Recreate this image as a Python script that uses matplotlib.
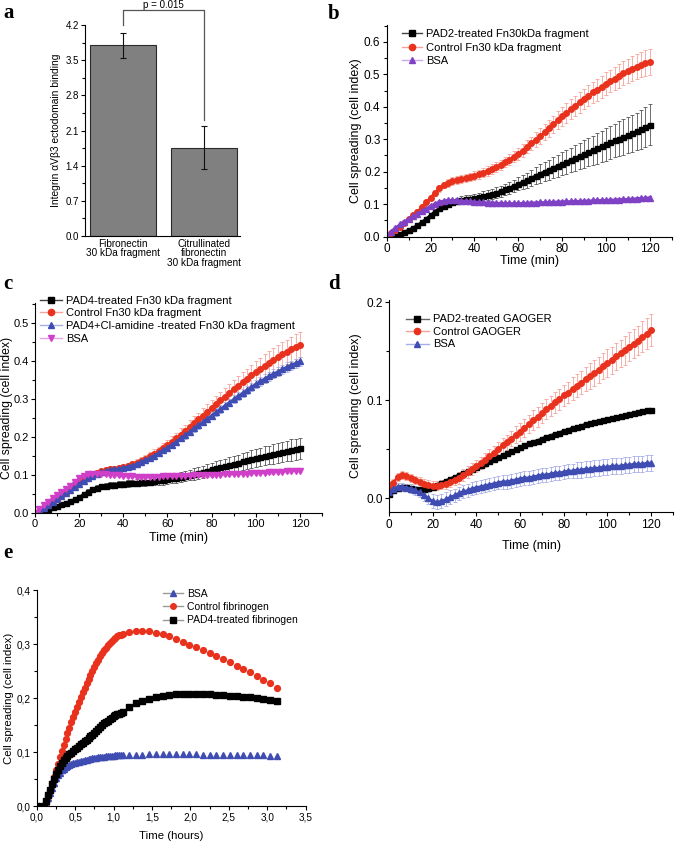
import numpy as np
import matplotlib
matplotlib.use("Agg")
import matplotlib.pyplot as plt
from matplotlib.lines import Line2D
from matplotlib.ticker import MultipleLocator, FormatStrFormatter, FuncFormatter

plt.rcParams['font.family'] = ['Liberation Sans', 'DejaVu Sans']
plt.rcParams['axes.linewidth'] = 0.8

# ---------------- Panel a data ----------------
a_categories = ["Fibronectin\n30 kDa fragment", "Citrullinated\nfibronectin\n30 kDa fragment"]
a_values = [3.80, 1.76]
a_errors = [0.25, 0.43]
a_pvalue = "p = 0.015"

# ---------------- Panel b data (time in min, every 2 min) ----------------
b_time = np.arange(0, 121, 2)
b_pad2 = [0.0, 0.0, 0.002, 0.008, 0.014, 0.02, 0.027, 0.035, 0.044, 0.055, 0.066, 0.077, 0.087, 0.095, 0.101,
          0.106, 0.11, 0.113, 0.115, 0.117, 0.119, 0.121, 0.124, 0.127, 0.131, 0.135, 0.14, 0.145, 0.15, 0.156,
          0.162, 0.168, 0.174, 0.181, 0.187, 0.194, 0.2, 0.206, 0.212, 0.218, 0.224, 0.23, 0.236, 0.242, 0.248,
          0.254, 0.26, 0.266, 0.272, 0.278, 0.284, 0.29, 0.296, 0.302, 0.307, 0.312, 0.318, 0.324, 0.33, 0.337, 0.345]
b_pad2_err = [0.002, 0.002, 0.003, 0.003, 0.004, 0.004, 0.005, 0.005, 0.006, 0.006, 0.007, 0.007, 0.008, 0.008, 0.009,
              0.01, 0.01, 0.011, 0.012, 0.012, 0.013, 0.014, 0.015, 0.015, 0.016, 0.017, 0.017, 0.018, 0.019, 0.019,
              0.02, 0.022, 0.023, 0.025, 0.026, 0.028, 0.029, 0.031, 0.032, 0.034, 0.035, 0.036, 0.038, 0.039, 0.041,
              0.042, 0.044, 0.045, 0.047, 0.048, 0.05, 0.051, 0.052, 0.053, 0.055, 0.056, 0.057, 0.058, 0.06, 0.061, 0.062]
b_control = [0.0, 0.01, 0.02, 0.03, 0.042, 0.053, 0.065, 0.077, 0.09, 0.105, 0.12, 0.135, 0.148, 0.158, 0.165,
             0.17, 0.174, 0.177, 0.18, 0.184, 0.188, 0.192, 0.197, 0.202, 0.208, 0.214, 0.221, 0.229, 0.237, 0.246,
             0.255, 0.265, 0.276, 0.287, 0.299, 0.31, 0.322, 0.334, 0.346, 0.358, 0.37, 0.381, 0.392, 0.403, 0.414,
             0.424, 0.434, 0.444, 0.453, 0.462, 0.471, 0.479, 0.487, 0.495, 0.503, 0.51, 0.517, 0.524, 0.53, 0.535, 0.539]
b_control_err = [0.004, 0.004, 0.005, 0.005, 0.006, 0.006, 0.007, 0.007, 0.008, 0.008, 0.009, 0.009, 0.01, 0.01, 0.011,
                 0.012, 0.012, 0.012, 0.013, 0.013, 0.013, 0.014, 0.014, 0.015, 0.015, 0.015, 0.016, 0.016, 0.017, 0.017,
                 0.018, 0.019, 0.02, 0.021, 0.022, 0.024, 0.025, 0.026, 0.027, 0.028, 0.03, 0.03, 0.031, 0.031, 0.032,
                 0.032, 0.033, 0.033, 0.034, 0.034, 0.035, 0.035, 0.036, 0.036, 0.037, 0.037, 0.038, 0.038, 0.039, 0.039, 0.04]
b_bsa = [0.0, 0.015, 0.027, 0.037, 0.046, 0.054, 0.062, 0.07, 0.078, 0.086, 0.094, 0.101, 0.107, 0.11, 0.112,
         0.112, 0.111, 0.11, 0.109, 0.108, 0.107, 0.106, 0.105, 0.104, 0.104, 0.103, 0.103, 0.103, 0.102, 0.102,
         0.102, 0.103, 0.103, 0.104, 0.104, 0.105, 0.105, 0.106, 0.106, 0.107, 0.107, 0.108, 0.108, 0.109, 0.109,
         0.11, 0.11, 0.111, 0.111, 0.112, 0.112, 0.113, 0.113, 0.114, 0.115, 0.115, 0.116, 0.117, 0.118, 0.119, 0.12]
b_bsa_err = [0.004] * 61
b_labels = ["PAD2-treated Fn30kDa fragment", "Control Fn30 kDa fragment", "BSA"]

# ---------------- Panel c data ----------------
c_time = np.arange(0, 121, 2)
c_pad4 = [0.0, 0.0, 0.004, 0.01, 0.015, 0.019, 0.023, 0.027, 0.031, 0.036, 0.042, 0.049, 0.056, 0.062, 0.067,
          0.07, 0.072, 0.074, 0.075, 0.076, 0.077, 0.078, 0.079, 0.08, 0.081, 0.082, 0.083, 0.084, 0.086, 0.087,
          0.089, 0.091, 0.093, 0.095, 0.098, 0.1, 0.103, 0.106, 0.109, 0.112, 0.115, 0.118, 0.121, 0.124, 0.127,
          0.13, 0.133, 0.136, 0.139, 0.142, 0.145, 0.148, 0.151, 0.153, 0.156, 0.158, 0.161, 0.163, 0.166, 0.168, 0.171]
c_pad4_err = [0.002, 0.002, 0.003, 0.003, 0.003, 0.004, 0.004, 0.004, 0.005, 0.005, 0.005, 0.006, 0.006, 0.006, 0.007,
              0.007, 0.007, 0.008, 0.008, 0.008, 0.008, 0.009, 0.009, 0.009, 0.01, 0.01, 0.01, 0.011, 0.011, 0.012,
              0.012, 0.012, 0.013, 0.013, 0.014, 0.014, 0.015, 0.016, 0.016, 0.017, 0.018, 0.018, 0.019, 0.019, 0.02,
              0.021, 0.021, 0.022, 0.022, 0.023, 0.024, 0.024, 0.025, 0.025, 0.026, 0.026, 0.027, 0.027, 0.028, 0.028, 0.028]
c_control = [0.0, 0.005, 0.012, 0.02, 0.028, 0.036, 0.044, 0.053, 0.062, 0.071, 0.08, 0.088, 0.095, 0.101, 0.106,
             0.11, 0.113, 0.115, 0.117, 0.119, 0.121, 0.124, 0.128, 0.132, 0.137, 0.143, 0.149, 0.156, 0.163, 0.171,
             0.179, 0.188, 0.197, 0.207, 0.217, 0.227, 0.237, 0.247, 0.257, 0.267, 0.277, 0.287, 0.297, 0.307, 0.317,
             0.327, 0.336, 0.345, 0.354, 0.363, 0.372, 0.38, 0.388, 0.396, 0.404, 0.411, 0.418, 0.425, 0.432, 0.438, 0.444]
c_control_err = [0.003, 0.003, 0.004, 0.004, 0.004, 0.005, 0.005, 0.005, 0.006, 0.006, 0.006, 0.006, 0.007, 0.007, 0.007,
                 0.007, 0.008, 0.008, 0.008, 0.008, 0.009, 0.009, 0.009, 0.01, 0.01, 0.01, 0.011, 0.012, 0.012, 0.013,
                 0.013, 0.014, 0.015, 0.016, 0.016, 0.017, 0.018, 0.018, 0.019, 0.02, 0.02, 0.021, 0.022, 0.023, 0.024,
                 0.025, 0.026, 0.027, 0.027, 0.028, 0.029, 0.029, 0.03, 0.03, 0.031, 0.031, 0.032, 0.032, 0.033, 0.033, 0.033]
c_clamidine = [0.0, 0.006, 0.013, 0.021, 0.029, 0.037, 0.045, 0.053, 0.061, 0.069, 0.077, 0.085, 0.092, 0.098, 0.103,
               0.107, 0.11, 0.113, 0.115, 0.117, 0.119, 0.122, 0.125, 0.129, 0.134, 0.139, 0.145, 0.151, 0.158, 0.165,
               0.172, 0.18, 0.188, 0.197, 0.205, 0.214, 0.223, 0.231, 0.24, 0.249, 0.257, 0.266, 0.274, 0.283, 0.291,
               0.3, 0.308, 0.316, 0.324, 0.332, 0.34, 0.347, 0.354, 0.361, 0.367, 0.373, 0.379, 0.385, 0.39, 0.395, 0.4]
c_clamidine_err = [0.003, 0.003, 0.003, 0.004, 0.004, 0.004, 0.004, 0.005, 0.005, 0.005, 0.005, 0.005, 0.005, 0.006, 0.006,
                   0.006, 0.006, 0.006, 0.006, 0.006, 0.006, 0.007, 0.007, 0.007, 0.007, 0.007, 0.007, 0.007, 0.008, 0.008,
                   0.008, 0.008, 0.008, 0.008, 0.009, 0.009, 0.009, 0.009, 0.009, 0.009, 0.01, 0.01, 0.01, 0.01, 0.01,
                   0.01, 0.011, 0.011, 0.011, 0.011, 0.011, 0.011, 0.012, 0.012, 0.012, 0.012, 0.012, 0.012, 0.012, 0.012, 0.012]
c_bsa = [0.0, 0.01, 0.02, 0.03, 0.039, 0.047, 0.055, 0.063, 0.072, 0.082, 0.091, 0.098, 0.102, 0.104, 0.104,
         0.103, 0.102, 0.101, 0.1, 0.099, 0.098, 0.097, 0.097, 0.096, 0.096, 0.096, 0.096, 0.096, 0.096, 0.097,
         0.097, 0.097, 0.097, 0.098, 0.098, 0.098, 0.099, 0.099, 0.099, 0.1, 0.1, 0.101, 0.101, 0.102, 0.102,
         0.103, 0.103, 0.104, 0.104, 0.105, 0.105, 0.106, 0.106, 0.107, 0.107, 0.108, 0.109, 0.11, 0.11, 0.111, 0.112]
c_bsa_err = [0.004] * 61
c_labels = ["PAD4-treated Fn30 kDa fragment", "Control Fn30 kDa fragment",
            "PAD4+Cl-amidine -treated Fn30 kDa fragment", "BSA"]

# ---------------- Panel d data ----------------
d_time = np.arange(0, 121, 2)
d_pad2 = [0.004, 0.008, 0.011, 0.012, 0.012, 0.011, 0.01, 0.01, 0.01, 0.011, 0.012, 0.014, 0.016, 0.018, 0.02,
          0.022, 0.024, 0.026, 0.028, 0.03, 0.032, 0.034, 0.036, 0.038, 0.04, 0.042, 0.044, 0.046, 0.048, 0.05,
          0.052, 0.054, 0.056, 0.058, 0.059, 0.061, 0.063, 0.064, 0.066, 0.067, 0.069, 0.07, 0.072, 0.073, 0.074,
          0.076, 0.077, 0.078, 0.079, 0.08, 0.081, 0.082, 0.083, 0.084, 0.085, 0.086, 0.087, 0.088, 0.089, 0.09, 0.09]
d_pad2_err = [0.002] * 61
d_control = [0.008, 0.016, 0.022, 0.024, 0.023, 0.021, 0.019, 0.017, 0.015, 0.014, 0.013, 0.013, 0.014, 0.015, 0.017,
             0.019, 0.021, 0.024, 0.027, 0.03, 0.033, 0.036, 0.039, 0.043, 0.046, 0.05, 0.054, 0.057, 0.061, 0.065,
             0.068, 0.072, 0.076, 0.08, 0.083, 0.087, 0.091, 0.094, 0.098, 0.101, 0.105, 0.108, 0.112, 0.115, 0.118,
             0.122, 0.125, 0.128, 0.131, 0.135, 0.138, 0.141, 0.145, 0.148, 0.151, 0.155, 0.158, 0.161, 0.165, 0.168, 0.172]
d_control_err = [0.004, 0.004, 0.004, 0.004, 0.004, 0.004, 0.004, 0.005, 0.005, 0.005, 0.005, 0.005, 0.005, 0.005, 0.005,
                 0.005, 0.006, 0.006, 0.006, 0.006, 0.006, 0.006, 0.007, 0.007, 0.007, 0.007, 0.008, 0.008, 0.008, 0.009,
                 0.009, 0.009, 0.009, 0.01, 0.01, 0.01, 0.01, 0.01, 0.011, 0.011, 0.011, 0.011, 0.012, 0.012, 0.012,
                 0.012, 0.013, 0.013, 0.013, 0.013, 0.014, 0.014, 0.014, 0.014, 0.015, 0.015, 0.015, 0.015, 0.016, 0.016, 0.016]
d_bsa = [0.006, 0.01, 0.012, 0.012, 0.011, 0.01, 0.008, 0.006, 0.003, 0.0, -0.003, -0.004, -0.003, -0.001, 0.001,
         0.003, 0.005, 0.007, 0.008, 0.01, 0.011, 0.012, 0.013, 0.014, 0.015, 0.016, 0.017, 0.017, 0.018, 0.019,
         0.02, 0.021, 0.021, 0.022, 0.023, 0.024, 0.024, 0.025, 0.026, 0.026, 0.027, 0.028, 0.028, 0.029, 0.029,
         0.03, 0.03, 0.031, 0.031, 0.032, 0.032, 0.033, 0.033, 0.033, 0.034, 0.034, 0.035, 0.035, 0.035, 0.036, 0.036]
d_bsa_err = [0.003, 0.003, 0.004, 0.004, 0.004, 0.005, 0.005, 0.005, 0.006, 0.006, 0.007, 0.007, 0.007, 0.007, 0.007,
             0.007, 0.007, 0.007, 0.007, 0.007, 0.007, 0.007, 0.007, 0.007, 0.007, 0.007, 0.007, 0.007, 0.007, 0.007,
             0.007, 0.007, 0.007, 0.007, 0.007, 0.007, 0.007, 0.007, 0.007, 0.007, 0.007, 0.007, 0.007, 0.008, 0.008,
             0.008, 0.008, 0.008, 0.008, 0.008, 0.008, 0.008, 0.008, 0.008, 0.008, 0.008, 0.008, 0.008, 0.008, 0.008, 0.008]
d_labels = ["PAD2-treated GAOGER", "Control GAOGER", "BSA"]

# ---------------- Panel e data (time in hours) ----------------
e_time_dense = np.arange(0.1, 1.1251, 0.025)
e_time_sparse = np.linspace(1.2, 3.125, 23)
e_bsa_dense = [0.0, 0.006, 0.014, 0.024, 0.034, 0.043, 0.051, 0.057, 0.062, 0.066, 0.069, 0.072, 0.074, 0.076,
               0.078, 0.079, 0.08, 0.081, 0.082, 0.083, 0.084, 0.085, 0.086, 0.087, 0.087, 0.088, 0.089, 0.089,
               0.09, 0.09, 0.091, 0.091, 0.092, 0.092, 0.093, 0.093, 0.093, 0.094, 0.094, 0.094, 0.094, 0.094]
e_bsa_sparse = [0.095, 0.095, 0.095, 0.096, 0.096, 0.096, 0.096, 0.096, 0.096, 0.096, 0.096, 0.095, 0.095,
                0.095, 0.095, 0.095, 0.095, 0.094, 0.094, 0.094, 0.094, 0.093, 0.093]
e_control_dense = [0.0, 0.008, 0.018, 0.03, 0.042, 0.054, 0.066, 0.078, 0.09, 0.102, 0.113, 0.124, 0.135, 0.145,
                   0.155, 0.165, 0.175, 0.184, 0.193, 0.202, 0.211, 0.219, 0.227, 0.235, 0.243, 0.25, 0.257, 0.264,
                   0.271, 0.277, 0.283, 0.288, 0.293, 0.298, 0.302, 0.306, 0.309, 0.312, 0.314, 0.316, 0.317, 0.318]
e_control_sparse = [0.322, 0.325, 0.325, 0.324, 0.321, 0.318, 0.314, 0.309, 0.304, 0.299, 0.294, 0.289, 0.283,
                    0.277, 0.272, 0.266, 0.26, 0.254, 0.248, 0.241, 0.234, 0.227, 0.219]
e_pad4_dense = [0.0, 0.01, 0.02, 0.03, 0.04, 0.05, 0.059, 0.067, 0.074, 0.08, 0.085, 0.089, 0.093, 0.096,
                0.099, 0.102, 0.105, 0.108, 0.111, 0.114, 0.117, 0.12, 0.123, 0.126, 0.129, 0.132, 0.135, 0.138,
                0.142, 0.146, 0.15, 0.153, 0.155, 0.158, 0.161, 0.163, 0.166, 0.168, 0.17, 0.171, 0.173, 0.174]
e_pad4_sparse = [0.184, 0.19, 0.195, 0.199, 0.202, 0.204, 0.206, 0.208, 0.208, 0.208, 0.208, 0.207, 0.207,
                 0.206, 0.205, 0.204, 0.203, 0.202, 0.201, 0.2, 0.199, 0.197, 0.194]
e_labels = ["BSA", "Control fibrinogen", "PAD4-treated fibrinogen"]

# ---------------- styles ----------------
RED = "#e8321e"
RED_L = "#f5a39a"
BLK = "#000000"
BLK_L = "#555555"
PUR = "#8042c4"
PUR_L = "#c8a8ee"
BLU = "#3f4db3"
BLU_L = "#a6aee6"
MAG = "#d03fc8"
MAG_L = "#eaa2e6"

W, H = 675, 841
fig = plt.figure(figsize=(W / 100, H / 100), dpi=100)


def add_axes_px(left, top, right, bottom):
    return fig.add_axes([left / W, 1 - bottom / H, (right - left) / W, (bottom - top) / H])


def style_axes(ax, fs=8.5):
    ax.spines['top'].set_visible(False)
    ax.spines['right'].set_visible(False)
    ax.tick_params(which='both', direction='out', width=0.8, labelsize=fs, pad=1.5)
    ax.tick_params(which='major', length=3)
    ax.tick_params(which='minor', length=2)


def series(ax, x, y, err, color, ecolor, marker, ms=4.0, z=2):
    if err is not None:
        ax.errorbar(x, y, yerr=err, fmt='none', ecolor=ecolor, elinewidth=0.6,
                    capsize=1.6, capthick=0.6, zorder=z)
    ax.plot(x, y, color=color, marker=marker, ms=ms, lw=1.8, mec=color, mfc=color, zorder=z + 0.5)


def legend_px(ax, handles, labels, x_px, top_px, fs=8, hl=1.8, spacing=0.15):
    ax.legend(handles, labels, loc='upper left', bbox_to_anchor=(x_px / W, 1 - top_px / H),
              bbox_transform=fig.transFigure, frameon=False, fontsize=fs, borderpad=0,
              borderaxespad=0, handlelength=hl, handletextpad=0.4, labelspacing=spacing)


def handle(lc, mc, marker, ms=4.5):
    return Line2D([0], [0], color=lc, lw=1.0, marker=marker, ms=ms, mfc=mc, mec=mc)


letter_font = dict(family=['Liberation Serif', 'DejaVu Serif'], fontweight='bold', fontsize=15)

# ================= Panel a =================
axa = add_axes_px(85, 25, 240, 236)
style_axes(axa, fs=7)
xa = np.arange(len(a_values))
axa.bar(xa, a_values, width=0.81, color="#808080", edgecolor="#2b2b2b", linewidth=0.8, zorder=2)
axa.errorbar(xa, a_values, yerr=a_errors, fmt='none', ecolor='#111111', elinewidth=0.8,
             capsize=2.2, capthick=0.8, zorder=3)
axa.set_xlim(-0.466, 1.436)
axa.set_ylim(0, 4.2)
axa.yaxis.set_major_locator(MultipleLocator(0.7))
axa.yaxis.set_minor_locator(MultipleLocator(0.35))
axa.yaxis.set_major_formatter(FormatStrFormatter('%.1f'))
axa.set_xticks(xa)
axa.set_xticklabels(a_categories, fontsize=7.2, linespacing=0.95)
axa.tick_params(axis='x', length=0, pad=2)
axa.set_ylabel("Integrin αVβ3 ectodomain binding", fontsize=7.4, labelpad=3)
br_top = 4.2 + 15 / 50.24
axa.plot([0, 0, 1, 1], [4.2, br_top, br_top, 2.31], color='#555555', lw=0.9, clip_on=False)
axa.text(0.5, br_top + 0.035, a_pvalue, ha='center', va='baseline', fontsize=7)
fig.text(9 / W, 1 - 13 / H, "a", ha='center', va='center', **letter_font)

# ================= Panel b =================
axb = add_axes_px(386.7, 25, 671.7, 236.5)
style_axes(axb)
series(axb, b_time, b_pad2, b_pad2_err, BLK, BLK_L, 's', ms=3.6)
series(axb, b_time, b_control, b_control_err, RED, RED_L, 'o')
series(axb, b_time, b_bsa, b_bsa_err, PUR, PUR_L, '^')
axb.set_xlim(0, 130)
axb.set_ylim(0, 0.652)
axb.xaxis.set_major_locator(MultipleLocator(20))
axb.xaxis.set_minor_locator(MultipleLocator(10))
axb.yaxis.set_major_locator(MultipleLocator(0.1))
axb.yaxis.set_minor_locator(MultipleLocator(0.05))
axb.yaxis.set_major_formatter(FormatStrFormatter('%.1f'))
axb.set_xlabel("Time (min)", fontsize=9, labelpad=0.5)
axb.set_ylabel("Cell spreading (cell index)", fontsize=9, labelpad=1.5)
legend_px(axb, [handle('#444444', BLK, 's'), handle(RED_L, RED, 'o'), handle(PUR_L, PUR, '^')],
          b_labels, 401.7, 29, spacing=0.32)
fig.text(334 / W, 1 - 14 / H, "b", ha='center', va='center', **letter_font)

# ================= Panel c =================
axc = add_axes_px(35, 303.3, 322, 513)
style_axes(axc, fs=8)
series(axc, c_time, c_pad4, c_pad4_err, BLK, BLK_L, 's', ms=3.6)
series(axc, c_time, c_control, c_control_err, RED, RED_L, 'o')
series(axc, c_time, c_clamidine, c_clamidine_err, BLU, BLU_L, '^')
series(axc, c_time, c_bsa, c_bsa_err, MAG, MAG_L, 'v')
axc.set_xlim(0, 130)
axc.set_ylim(0, 0.553)
axc.xaxis.set_major_locator(MultipleLocator(20))
axc.xaxis.set_minor_locator(MultipleLocator(10))
axc.yaxis.set_major_locator(MultipleLocator(0.1))
axc.yaxis.set_minor_locator(MultipleLocator(0.05))
axc.yaxis.set_major_formatter(FormatStrFormatter('%.1f'))
axc.set_xlabel("Time (min)", fontsize=9, labelpad=2)
axc.set_ylabel("Cell spreading (cell index)", fontsize=8.8, labelpad=0.5)
legend_px(axc, [handle('#444444', BLK, 's'), handle(RED_L, RED, 'o'), handle(BLU_L, BLU, '^'),
                handle(MAG_L, MAG, 'v')], c_labels, 40, 295.5, hl=1.95, spacing=0.25)
fig.text(8 / W, 1 - 284 / H, "c", ha='center', va='center', **letter_font)

# ================= Panel d =================
axd = add_axes_px(389, 300, 673, 512.3)
style_axes(axd)
series(axd, d_time, d_pad2, d_pad2_err, BLK, BLK_L, 's', ms=3.6)
series(axd, d_time, d_control, d_control_err, RED, RED_L, 'o')
series(axd, d_time, d_bsa, d_bsa_err, BLU, BLU_L, '^')
axd.set_xlim(0, 130)
axd.set_ylim(-0.0143, 0.2025)
axd.xaxis.set_major_locator(MultipleLocator(20))
axd.xaxis.set_minor_locator(MultipleLocator(10))
axd.yaxis.set_major_locator(MultipleLocator(0.1))
axd.yaxis.set_minor_locator(MultipleLocator(0.05))
axd.yaxis.set_major_formatter(FormatStrFormatter('%.1f'))
axd.set_xlabel("Time (min)", fontsize=9, labelpad=7)
axd.set_ylabel("Cell spreading (cell index)", fontsize=9, labelpad=3)
legend_px(axd, [handle('#666666', BLK, 's'), handle(RED_L, RED, 'o'), handle(BLU_L, BLU, '^')],
          d_labels, 405.7, 314.5, hl=2.1, spacing=0.22)
fig.text(334 / W, 1 - 284 / H, "d", ha='center', va='center', **letter_font)

# ================= Panel e =================
axe = add_axes_px(36.7, 590, 305.7, 806)
style_axes(axe, fs=7.2)
e_t = np.concatenate([e_time_dense, e_time_sparse])
axe.plot(e_t, e_bsa_dense + e_bsa_sparse, ls='none', marker='^', ms=4.2, color=BLU, zorder=2)
axe.plot(e_t, e_control_dense + e_control_sparse, ls='none', marker='o', ms=4.2, color=RED, zorder=3)
axe.plot(np.concatenate([[0.0], e_t]), [0.0] + e_pad4_dense + e_pad4_sparse, ls='none', marker='s',
         ms=3.8, color=BLK, zorder=4)
axe.set_xlim(0, 3.5)
axe.set_ylim(0, 0.4)
axe.xaxis.set_major_locator(MultipleLocator(0.5))
axe.xaxis.set_minor_locator(MultipleLocator(0.25))
axe.yaxis.set_major_locator(MultipleLocator(0.1))
axe.yaxis.set_minor_locator(MultipleLocator(0.05))
comma = FuncFormatter(lambda v, p: f"{v:.1f}".replace('.', ','))
axe.xaxis.set_major_formatter(comma)
axe.yaxis.set_major_formatter(comma)
axe.set_xlabel("Time (hours)", fontsize=8.2, labelpad=6)
axe.set_ylabel("Cell spreading (cell index)", fontsize=8.2, labelpad=2)
legend_px(axe, [handle('#999999', BLU, '^', 4), handle('#999999', RED, 'o', 4), handle('#999999', BLK, 's', 4)],
          e_labels, 163.3, 589, fs=7.5, hl=1.9, spacing=0.3)
fig.text(8 / W, 1 - 553 / H, "e", ha='center', va='center', **letter_font)

fig.savefig("out.png", dpi=100)
